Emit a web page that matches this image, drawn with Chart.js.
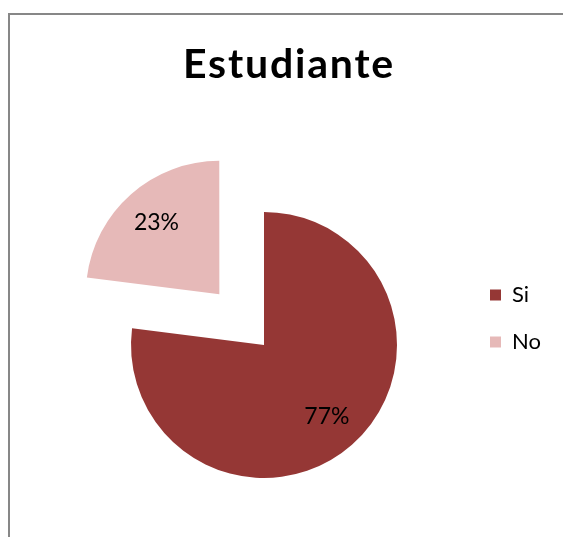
<!DOCTYPE html>
<html>
<head>
<meta charset="utf-8">
<script src="https://cdn.jsdelivr.net/npm/chart.js@4.4.1/dist/chart.umd.min.js"></script>
<style>
  html, body { margin: 0; padding: 0; background: #ffffff; }
  #wrap { position: relative; width: 563px; height: 537px; overflow: hidden; }
  #c { display: block; position: absolute; left: 0; top: 0; }
  #title {
    position: absolute; left: 0; top: 38px; width: 578px;
    text-align: center; font-family: Lato, sans-serif; font-weight: bold;
    font-size: 41px; line-height: 49px; letter-spacing: 1.8px; color: #000;
    white-space: nowrap;
  }
</style>
</head>
<body>
<div id="wrap">
  <canvas id="c" width="563" height="537"></canvas>
  <div id="title"></div>
</div>
<script>
const chartTitle = 'Estudiante';
const categories = ['Si', 'No'];
const values = [77, 23];
const percentLabels = ['77%', '23%'];
const sliceColors = ['#953735', '#E6B9B8'];
const sliceOffsets = [0, 270];

const FONT = 'Lato';
const LEGEND_FONT_SIZE = 22;
const LEGEND_BOX = 11;
const LEGEND_PAD = 25;
const LABEL_FONT_SIZE = 23;

document.getElementById('title').textContent = chartTitle;

// legend width as Chart.js computes it, so the pie centre lands where wanted
const mctx = document.createElement('canvas').getContext('2d');
mctx.font = LEGEND_FONT_SIZE + 'px ' + FONT;
const maxTextW = Math.max(...categories.map(c => mctx.measureText(c).width));
const legendW = LEGEND_PAD + LEGEND_BOX + LEGEND_FONT_SIZE / 2 + maxTextW + 10;
const chartLeft = 63;
const chartRight = 465;
const padRight = 563 - chartRight - legendW;

const framePlugin = {
  id: 'frame',
  beforeDraw(chart) {
    const ctx = chart.ctx;
    ctx.save();
    ctx.fillStyle = '#ffffff';
    ctx.fillRect(0, 0, chart.width, chart.height);
    ctx.strokeStyle = '#878787';
    ctx.lineWidth = 2;
    ctx.beginPath();
    ctx.moveTo(9, chart.height);
    ctx.lineTo(9, 14);
    ctx.lineTo(chart.width, 14);
    ctx.stroke();
    ctx.restore();
  }
};

const labelPlugin = {
  id: 'sliceLabels',
  afterDatasetsDraw(chart) {
    const ctx = chart.ctx;
    const meta = chart.getDatasetMeta(0);
    ctx.save();
    ctx.font = LABEL_FONT_SIZE + 'px ' + FONT;
    ctx.fillStyle = '#000000';
    ctx.textAlign = 'center';
    ctx.textBaseline = 'middle';
    meta.data.forEach((arc, i) => {
      const p = arc.getProps(['x', 'y', 'startAngle', 'endAngle', 'outerRadius'], true);
      const mid = (p.startAngle + p.endAngle) / 2;
      const off = (arc.options.offset || 0) / 4;
      const r = off + p.outerRadius * 0.715;
      ctx.fillText(percentLabels[i], p.x + Math.cos(mid) * r, p.y + Math.sin(mid) * r);
    });
    ctx.restore();
  }
};

new Chart(document.getElementById('c'), {
  type: 'pie',
  data: {
    labels: categories,
    datasets: [{
      data: values,
      backgroundColor: sliceColors,
      borderWidth: 0,
      offset: sliceOffsets,
      clip: false
    }]
  },
  options: {
    responsive: false,
    animation: false,
    devicePixelRatio: 1,
    radius: 133,
    cutout: '0%',
    layout: { padding: { top: 259, left: chartLeft, right: padRight, bottom: 106 } },
    plugins: {
      title: { display: false },
      legend: {
        display: true,
        position: 'right',
        align: 'start',
        fullSize: false,
        labels: {
          boxWidth: LEGEND_BOX,
          boxHeight: LEGEND_BOX,
          padding: LEGEND_PAD,
          color: '#000000',
          textAlign: 'left',
          font: { family: FONT, size: LEGEND_FONT_SIZE }
        }
      },
      tooltip: { enabled: false }
    }
  },
  plugins: [framePlugin, labelPlugin]
});
</script>
</body>
</html>
